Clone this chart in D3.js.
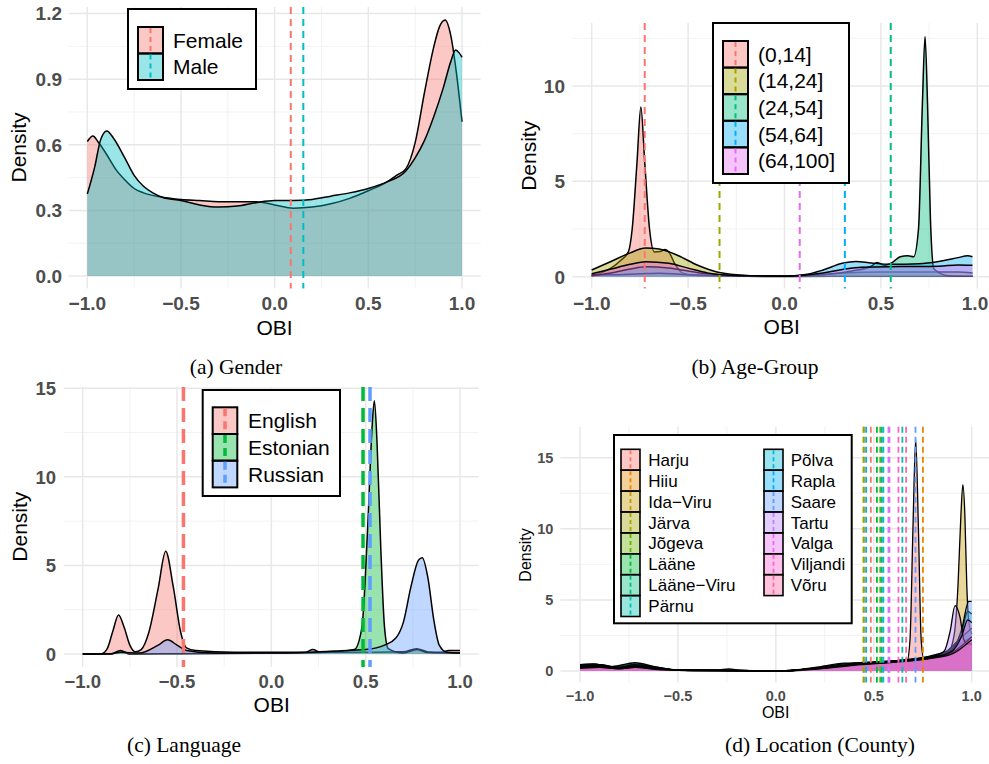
<!DOCTYPE html>
<html><head><meta charset="utf-8">
<script src="https://cdn.jsdelivr.net/npm/d3@7"></script>
<style>body{margin:0;background:#fff}svg{display:block}</style>
</head><body>
<svg id="chart" width="989" height="764"></svg>
<script>
// ---------------- DATA ----------------
const obiTicks = [-1, -0.5, 0, 0.5, 1];

// (a) Gender
const genderLevels = ["Female", "Male"];
const genderColors = ["#F8766D", "#00BFC4"];
const genderFemale = [[-1,0.615],[-0.97,0.64],[-0.94,0.61],[-0.9,0.56],[-0.85,0.49],[-0.8,0.44],[-0.75,0.4],[-0.7,0.38],[-0.6,0.36],[-0.5,0.35],[-0.4,0.345],[-0.3,0.34],[-0.2,0.34],[-0.1,0.34],[0,0.325],[0.1,0.31],[0.2,0.315],[0.3,0.33],[0.4,0.355],[0.5,0.39],[0.6,0.43],[0.65,0.46],[0.7,0.49],[0.75,0.61],[0.8,0.84],[0.85,1.05],[0.88,1.14],[0.91,1.17],[0.94,1.1],[0.97,0.93],[1.0,0.705]];
const genderMale = [[-1,0.375],[-0.96,0.5],[-0.93,0.62],[-0.896,0.663],[-0.86,0.63],[-0.8,0.54],[-0.75,0.46],[-0.7,0.41],[-0.65,0.38],[-0.6,0.36],[-0.5,0.345],[-0.4,0.325],[-0.3,0.315],[-0.2,0.32],[-0.1,0.335],[0,0.345],[0.1,0.345],[0.2,0.35],[0.3,0.365],[0.4,0.38],[0.5,0.4],[0.6,0.43],[0.7,0.48],[0.75,0.54],[0.8,0.62],[0.85,0.73],[0.9,0.86],[0.94,0.98],[0.966,1.033],[0.985,1.02],[1.0,1.0]];
const genderMeans = [0.086, 0.153];
const genderYTicks = [0, 0.3, 0.6, 0.9, 1.2];

// (b) Age-Group
const ageLevels = ["(0,14]", "(14,24]", "(24,54]", "(54,64]", "(64,100]"];
const ageColors = ["#F8766D", "#A3A500", "#00BF7D", "#00B0F6", "#E76BF3"];
const age0to14 = [[-1,0.05],[-0.95,0.2],[-0.9,0.45],[-0.85,0.85],[-0.81,1.3],[-0.79,2.5],[-0.765,6],[-0.745,8.9],[-0.725,6],[-0.70,2.5],[-0.675,1.3],[-0.645,1.32],[-0.62,1.42],[-0.6,1.3],[-0.57,0.7],[-0.53,0.2],[-0.45,0.06],[0,0.01],[0.5,0.03],[0.975,0.03]];
const age14to24 = [[-1,0.35],[-0.9,0.8],[-0.8,1.25],[-0.72,1.5],[-0.65,1.45],[-0.55,1.1],[-0.45,0.6],[-0.35,0.25],[-0.25,0.1],[-0.1,0.03],[0,0.03],[0.1,0.06],[0.2,0.12],[0.3,0.2],[0.5,0.25],[0.7,0.25],[0.9,0.25],[0.975,0.2]];
const age24to54 = [[-1,0.1],[-0.9,0.1],[-0.75,0.15],[-0.65,0.18],[-0.5,0.1],[-0.3,0.05],[0,0.03],[0.2,0.1],[0.35,0.3],[0.45,0.55],[0.48,0.75],[0.52,0.6],[0.56,0.75],[0.6,1.05],[0.64,1.1],[0.67,1.05],[0.695,2.5],[0.715,9],[0.729,12.6],[0.742,9],[0.757,3],[0.775,0.4],[0.85,0.05],[0.975,0.02]];
const age54to64 = [[-1,0.05],[-0.9,0.2],[-0.8,0.4],[-0.72,0.52],[-0.6,0.45],[-0.5,0.3],[-0.4,0.15],[-0.2,0.04],[0,0.03],[0.1,0.1],[0.2,0.35],[0.3,0.7],[0.37,0.8],[0.45,0.72],[0.55,0.65],[0.7,0.68],[0.8,0.8],[0.9,1.0],[0.95,1.1],[0.975,1.05]];
const age64to100 = [[-1,0.15],[-0.9,0.4],[-0.8,0.65],[-0.72,0.79],[-0.6,0.7],[-0.5,0.45],[-0.4,0.2],[-0.25,0.06],[0,0.03],[0.1,0.08],[0.2,0.2],[0.3,0.38],[0.4,0.5],[0.6,0.53],[0.8,0.55],[0.9,0.62],[0.975,0.6]];
const ageMeans = [-0.725, -0.337, 0.551, 0.313, 0.079];
const ageYTicks = [0, 5, 10];

// (c) Language
const langLevels = ["English", "Estonian", "Russian"];
const langColors = ["#F8766D", "#00BA38", "#619CFF"];
const langEnglish = [[-1,0],[-0.9,0.02],[-0.87,0.3],[-0.84,1.3],[-0.81,2.2],[-0.78,1.5],[-0.75,0.5],[-0.72,0.12],[-0.69,0.25],[-0.65,1.2],[-0.6,3.7],[-0.56,5.8],[-0.52,3.8],[-0.48,1.2],[-0.45,0.35],[-0.4,0.2],[-0.2,0.1],[0.18,0.1],[0.22,0.25],[0.26,0.1],[0.5,0.1],[0.7,0.12],[0.77,0.3],[0.83,0.12],[0.9,0.1],[0.94,0.2],[1.0,0.2]];
const langEstonian = [[-1,0],[-0.85,0.0],[-0.8,0.2],[-0.75,0.0],[-0.5,0.02],[0,0.05],[0.3,0.1],[0.44,0.25],[0.48,1.5],[0.51,7],[0.535,13],[0.546,14.3],[0.56,12],[0.58,6],[0.6,1.5],[0.62,0.3],[0.7,0.05],[0.77,0.25],[0.83,0.08],[1.0,0.05]];
const langRussian = [[-1,0],[-0.85,0.02],[-0.8,0.1],[-0.7,0.05],[-0.6,0.5],[-0.55,0.8],[-0.5,0.5],[-0.45,0.2],[-0.3,0.05],[0,0.05],[0.2,0.1],[0.4,0.2],[0.5,0.25],[0.6,0.5],[0.66,0.9],[0.7,1.8],[0.74,3.8],[0.78,5.3],[0.8,5.44],[0.83,4.3],[0.86,2],[0.89,0.5],[0.93,0.1],[1.0,0.05]];
const langMeans = [-0.466, 0.486, 0.523];
const langYTicks = [0, 5, 10, 15];

// (d) Location (County)
const countyLevels = ["Harju","Hiiu","Ida\u2212Viru","Järva","Jõgeva","Lääne","Lääne\u2212Viru","Pärnu","Põlva","Rapla","Saare","Tartu","Valga","Viljandi","Võru"];
const countyColors = ["#F8766D","#E58700","#C99800","#A3A500","#6BB100","#00BA38","#00BF7D","#00C0AF","#00BCD8","#00B0F6","#619CFF","#B983FF","#E76BF3","#FD61D1","#FF67A4"];
const dHarju = [[-1,0.35],[-0.93,0.4],[-0.85,0.25],[-0.72,0.42],[-0.6,0.2],[-0.5,0.07],[-0.3,0.05],[-0.1,0.02],[0.05,0.03],[0.2,0.15],[0.35,0.35],[0.5,0.5],[0.62,0.62],[0.67,0.7],[0.685,2.2],[0.70,10],[0.714,16.3],[0.728,10],[0.742,2.2],[0.755,0.9],[0.8,1.0],[0.9,1.3],[0.95,1.7],[1.0,1.9]];
const dHiiu = [[-1,0.25],[-0.9,0.3],[-0.8,0.2],[-0.72,0.3],[-0.6,0.15],[-0.5,0.05],[-0.3,0.06],[-0.24,0.15],[-0.18,0.05],[-0.1,0.03],[0.05,0.02],[0.2,0.12],[0.4,0.4],[0.6,0.6],[0.8,0.95],[0.9,1.25],[1.0,1.5]];
const dIdaViru = [[-1,0.45],[-0.93,0.5],[-0.85,0.3],[-0.72,0.45],[-0.6,0.25],[-0.5,0.06],[-0.3,0.04],[-0.1,0.02],[0.05,0.02],[0.2,0.1],[0.4,0.3],[0.6,0.55],[0.8,0.9],[0.88,1.3],[0.91,2.5],[0.93,6],[0.945,11],[0.955,13.1],[0.965,11],[0.975,6],[0.985,3.5],[1.0,2.6]];
const dJarva = [[-1,0.3],[-0.9,0.35],[-0.85,0.2],[-0.72,0.35],[-0.6,0.15],[-0.5,0.05],[-0.1,0.02],[0.05,0.02],[0.2,0.15],[0.4,0.5],[0.6,0.7],[0.8,1.0],[0.9,1.3],[1.0,1.6]];
const dJogeva = [[-1,0.4],[-0.9,0.45],[-0.8,0.25],[-0.72,0.4],[-0.6,0.2],[-0.5,0.05],[-0.1,0.02],[0.05,0.02],[0.2,0.2],[0.4,0.45],[0.6,0.65],[0.8,1.0],[0.9,1.35],[1.0,1.8]];
const dLaane = [[-1,0.35],[-0.9,0.4],[-0.82,0.25],[-0.72,0.45],[-0.6,0.2],[-0.5,0.05],[-0.1,0.02],[0.05,0.02],[0.2,0.18],[0.4,0.5],[0.6,0.7],[0.8,1.05],[0.9,1.4],[1.0,2.0]];
const dLaaneViru = [[-1,0.4],[-0.9,0.45],[-0.83,0.28],[-0.72,0.5],[-0.6,0.22],[-0.5,0.06],[-0.1,0.02],[0.05,0.02],[0.2,0.2],[0.4,0.55],[0.6,0.72],[0.8,1.05],[0.9,1.5],[1.0,2.2]];
const dParnu = [[-1,0.45],[-0.93,0.48],[-0.84,0.3],[-0.72,0.58],[-0.6,0.25],[-0.5,0.06],[-0.1,0.02],[0.05,0.03],[0.2,0.25],[0.35,0.55],[0.5,0.6],[0.7,0.8],[0.85,1.2],[0.95,2.0],[1.0,2.4]];
const dPolva = [[-1,0.3],[-0.9,0.35],[-0.82,0.2],[-0.72,0.4],[-0.6,0.2],[-0.5,0.05],[-0.1,0.02],[0.05,0.02],[0.2,0.2],[0.4,0.5],[0.6,0.7],[0.8,1.1],[0.9,1.6],[0.95,2.8],[0.98,4.2],[1.0,4.0]];
const dRapla = [[-1,0.35],[-0.9,0.4],[-0.8,0.25],[-0.72,0.45],[-0.6,0.2],[-0.5,0.05],[-0.1,0.02],[0.05,0.02],[0.2,0.22],[0.35,0.5],[0.5,0.6],[0.7,0.8],[0.85,1.2],[0.95,2.4],[1.0,3.0]];
const dSaare = [[-1,0.3],[-0.9,0.35],[-0.8,0.2],[-0.72,0.35],[-0.6,0.15],[-0.5,0.05],[-0.1,0.02],[0.05,0.02],[0.2,0.15],[0.4,0.45],[0.6,0.65],[0.8,1.0],[0.9,1.5],[0.95,3.0],[0.985,4.9],[1.0,4.9]];
const dTartu = [[-1,0.3],[-0.9,0.35],[-0.8,0.2],[-0.72,0.35],[-0.6,0.18],[-0.5,0.05],[-0.1,0.02],[0.05,0.02],[0.2,0.15],[0.4,0.45],[0.6,0.65],[0.8,1.0],[0.86,1.4],[0.89,2.8],[0.915,4.6],[0.94,3.8],[0.96,2.2],[0.98,1.9],[1.0,1.9]];
const dValga = [[-1,0.25],[-0.9,0.3],[-0.8,0.18],[-0.72,0.3],[-0.6,0.15],[-0.5,0.05],[-0.1,0.02],[0.05,0.02],[0.2,0.15],[0.4,0.45],[0.6,0.65],[0.8,0.95],[0.9,1.3],[1.0,2.4]];
const dViljandi = [[-1,0.2],[-0.9,0.25],[-0.8,0.15],[-0.72,0.25],[-0.6,0.12],[-0.5,0.04],[-0.1,0.02],[0.05,0.02],[0.2,0.15],[0.4,0.45],[0.6,0.65],[0.8,0.95],[0.9,1.4],[0.95,2.5],[0.98,3.6],[1.0,3.4]];
const dVoru = [[-1,0.2],[-0.9,0.25],[-0.8,0.15],[-0.72,0.25],[-0.6,0.1],[-0.5,0.04],[-0.1,0.02],[0.05,0.02],[0.2,0.12],[0.4,0.4],[0.6,0.6],[0.8,0.9],[0.9,1.2],[1.0,2.2]];
const countyMeans = [0.485, 0.751, 0.45, 0.447, 0.533, 0.516, 0.541, 0.646, 0.549, 0.461, 0.713, 0.575, 0.58, 0.626, 0.665];
const countyYTicks = [0, 5, 10, 15];

const captions = ["(a) Gender", "(b) Age-Group", "(c) Language", "(d) Location (County)"];

// ---------------- DRAWING ----------------
const svg = d3.select("#chart");
const SANS = "'Liberation Sans', Arial, Helvetica, sans-serif";
const SERIF = "'Liberation Serif', 'Times New Roman', serif";
const ALPHA = 0.4;

function drawPanel(o) {
  const x = d3.scaleLinear([-1, 1], o.xpx);
  const y = d3.scaleLinear([0, o.yRef], o.ypx);
  const g = svg.append("g");
  const [bx0, by0, bx1, by1] = o.box;
  const yDomHi = y.invert(by0);

  // minor grid
  const xMinor = obiTicks.slice(0, -1).map((t, i) => (t + obiTicks[i + 1]) / 2);
  const yT = o.yTicks, step = yT[1] - yT[0];
  const yMinor = yT.map(t => t + step / 2).filter(v => v < yDomHi);
  g.selectAll(null).data(xMinor).join("line")
    .attr("x1", d => x(d)).attr("x2", d => x(d)).attr("y1", by0).attr("y2", by1)
    .attr("stroke", "#F0F0F0").attr("stroke-width", 0.9);
  g.selectAll(null).data(yMinor).join("line")
    .attr("y1", d => y(d)).attr("y2", d => y(d)).attr("x1", bx0).attr("x2", bx1)
    .attr("stroke", "#F0F0F0").attr("stroke-width", 0.9);
  // major grid
  g.selectAll(null).data(obiTicks).join("line")
    .attr("x1", d => x(d)).attr("x2", d => x(d)).attr("y1", by0).attr("y2", by1)
    .attr("stroke", "#E8E8E8").attr("stroke-width", 1.5);
  g.selectAll(null).data(yT).join("line")
    .attr("y1", d => y(d)).attr("y2", d => y(d)).attr("x1", bx0).attr("x2", bx1)
    .attr("stroke", "#E8E8E8").attr("stroke-width", 1.5);

  // densities
  const area = d3.area().x(d => x(d[0])).y0(y(0)).y1(d => y(d[1])).curve(d3.curveMonotoneX);
  const line = d3.line().x(d => x(d[0])).y(d => y(d[1])).curve(d3.curveMonotoneX);
  o.series.forEach((s, i) => {
    g.append("path").attr("d", area(s)).attr("fill", o.colors[i]).attr("fill-opacity", ALPHA);
    g.append("path").attr("d", line(s)).attr("fill", "none").attr("stroke", "#000")
      .attr("stroke-width", o.lw).attr("stroke-linejoin", "round");
  });

  // mean lines
  g.selectAll(null).data(o.means).join("line")
    .attr("x1", d => x(d)).attr("x2", d => x(d)).attr("y1", by0).attr("y2", by1)
    .attr("stroke", (d, i) => o.colors[i]).attr("stroke-width", o.dashW)
    .attr("stroke-dasharray", o.dash);

  // tick labels
  const fmtX = t => (t < 0 ? "\u2212" : "") + Math.abs(t).toFixed(1);
  g.selectAll(null).data(obiTicks).join("text")
    .attr("x", d => Math.min(x(d), o.xLabMax || 9999)).attr("y", o.xLabY).attr("text-anchor", "middle")
    .attr("font-family", SANS).attr("font-weight", "bold").attr("font-size", o.tickFs)
    .attr("fill", "#4D4D4D").text(fmtX);
  g.selectAll(null).data(yT).join("text")
    .attr("x", o.yLabX).attr("y", d => y(d)).attr("dy", "0.36em").attr("text-anchor", "end")
    .attr("font-family", SANS).attr("font-weight", "bold").attr("font-size", o.tickFs)
    .attr("fill", "#4D4D4D").text(d => o.yFmt(d));

  // axis titles
  g.append("text").attr("x", o.obi[0]).attr("y", o.obi[1]).attr("dy", "0.36em")
    .attr("text-anchor", "middle").attr("font-family", SANS).attr("font-size", o.titleFs)
    .attr("fill", "#000").text("OBI");
  g.append("text").attr("transform", `translate(${o.dens[0]},${o.dens[1]}) rotate(-90)`)
    .attr("dy", "0.36em").attr("text-anchor", "middle").attr("font-family", SANS)
    .attr("font-size", o.titleFs).attr("fill", "#000").text("Density");

  // legend
  const L = o.legend;
  g.append("rect").attr("x", L.box[0]).attr("y", L.box[1])
    .attr("width", L.box[2] - L.box[0]).attr("height", L.box[3] - L.box[1])
    .attr("fill", "#fff").attr("stroke", "#000").attr("stroke-width", 2);
  o.levels.forEach((lab, i) => {
    const col = Math.floor(i / L.perCol);
    const row = i % L.perCol;
    const kx = L.keyX[col], ky = L.rowY + row * L.rowH;
    g.append("rect").attr("x", kx).attr("y", ky).attr("width", L.keyW).attr("height", L.rowH)
      .attr("fill", o.colors[i]).attr("fill-opacity", ALPHA)
      .attr("stroke", "#000").attr("stroke-width", L.keyStroke);
    g.append("line").attr("x1", kx + L.keyW / 2).attr("x2", kx + L.keyW / 2)
      .attr("y1", ky + 1).attr("y2", ky + L.rowH - 1)
      .attr("stroke", o.colors[i]).attr("stroke-width", o.dashW).attr("stroke-dasharray", L.keyDash);
    g.append("text").attr("x", L.textX[col]).attr("y", ky + L.rowH / 2).attr("dy", "0.36em")
      .attr("font-family", SANS).attr("font-size", L.fs).attr("fill", "#000").text(lab);
  });
}

// (a)
drawPanel({
  xpx: [87.3, 462], yRef: 1.2, ypx: [276, 13.5], box: [68.6, 6.9, 480.7, 288.5],
  yTicks: genderYTicks, yFmt: d => d.toFixed(1),
  series: [genderFemale, genderMale], colors: genderColors, levels: genderLevels, means: genderMeans,
  lw: 1.5, dash: "7,5", dashW: 2,
  xLabY: 310, yLabX: 62, tickFs: 19, titleFs: 21, obi: [274.6, 327], dens: [18.5, 147.5],
  legend: { box: [128, 9, 256, 89], keyX: [138], keyW: 25, rowY: 27, rowH: 26.5, perCol: 2,
    textX: [173], fs: 21, keyStroke: 2, keyDash: "5,4" }
});
// (b)
drawPanel({
  xpx: [591.7, 977.3], yRef: 10, ypx: [276.7, 86], box: [572.5, 23, 989, 288.5],
  yTicks: ageYTicks, yFmt: d => String(d), xLabMax: 975,
  series: [age0to14, age14to24, age24to54, age54to64, age64to100], colors: ageColors,
  levels: ageLevels, means: ageMeans,
  lw: 1.5, dash: "7,5", dashW: 2,
  xLabY: 310, yLabX: 565, tickFs: 19, titleFs: 21, obi: [781.7, 326], dens: [528, 155.8],
  legend: { box: [713, 23, 849, 183], keyX: [723], keyW: 25, rowY: 41, rowH: 26.6, perCol: 5,
    textX: [758], fs: 21, keyStroke: 2, keyDash: "5,4" }
});
// (c)
drawPanel({
  xpx: [82.7, 460], yRef: 15, ypx: [654, 388.3], box: [63.8, 387, 478.9, 667],
  yTicks: langYTicks, yFmt: d => String(d),
  series: [langEnglish, langEstonian, langRussian], colors: langColors,
  levels: langLevels, means: langMeans,
  lw: 1.5, dash: "14,7", dashW: 3.5,
  xLabY: 687.5, yLabX: 56, tickFs: 18.5, titleFs: 21, obi: [271.7, 704], dens: [19, 526.7],
  legend: { box: [202.7, 390, 340, 496], keyX: [212.7], keyW: 24.6, rowY: 407.3, rowH: 26.7, perCol: 3,
    textX: [248], fs: 21, keyStroke: 2, keyDash: "8,5" }
});
// (d)
drawPanel({
  xpx: [580, 971.7], yRef: 15, ypx: [671, 457.7], box: [560.4, 426.7, 989, 682.5],
  yTicks: countyYTicks, yFmt: d => String(d), xLabMax: 976,
  series: [dHarju, dHiiu, dIdaViru, dJarva, dJogeva, dLaane, dLaaneViru, dParnu, dPolva, dRapla, dSaare, dTartu, dValga, dViljandi, dVoru],
  colors: countyColors, levels: countyLevels, means: countyMeans,
  lw: 1.3, dash: "6,4", dashW: 1.8,
  xLabY: 700.5, yLabX: 553.3, tickFs: 14.5, titleFs: 16, obi: [775.7, 712.5], dens: [525, 555],
  legend: { box: [614, 435, 851.7, 623.3], keyX: [621, 764], keyW: 19, rowY: 449.3, rowH: 20.9, perCol: 8,
    textX: [648.3, 790.7], fs: 17, keyStroke: 1.6, keyDash: "4,3" }
});

// captions
const capPos = [[236, 374], [755, 374], [184, 752], [820, 752]];
svg.selectAll(null).data(captions).join("text")
  .attr("x", (d, i) => capPos[i][0]).attr("y", (d, i) => capPos[i][1])
  .attr("text-anchor", "middle").attr("font-family", SERIF).attr("font-size", 21.5)
  .attr("fill", "#000").text(d => d);
</script>
</body></html>
